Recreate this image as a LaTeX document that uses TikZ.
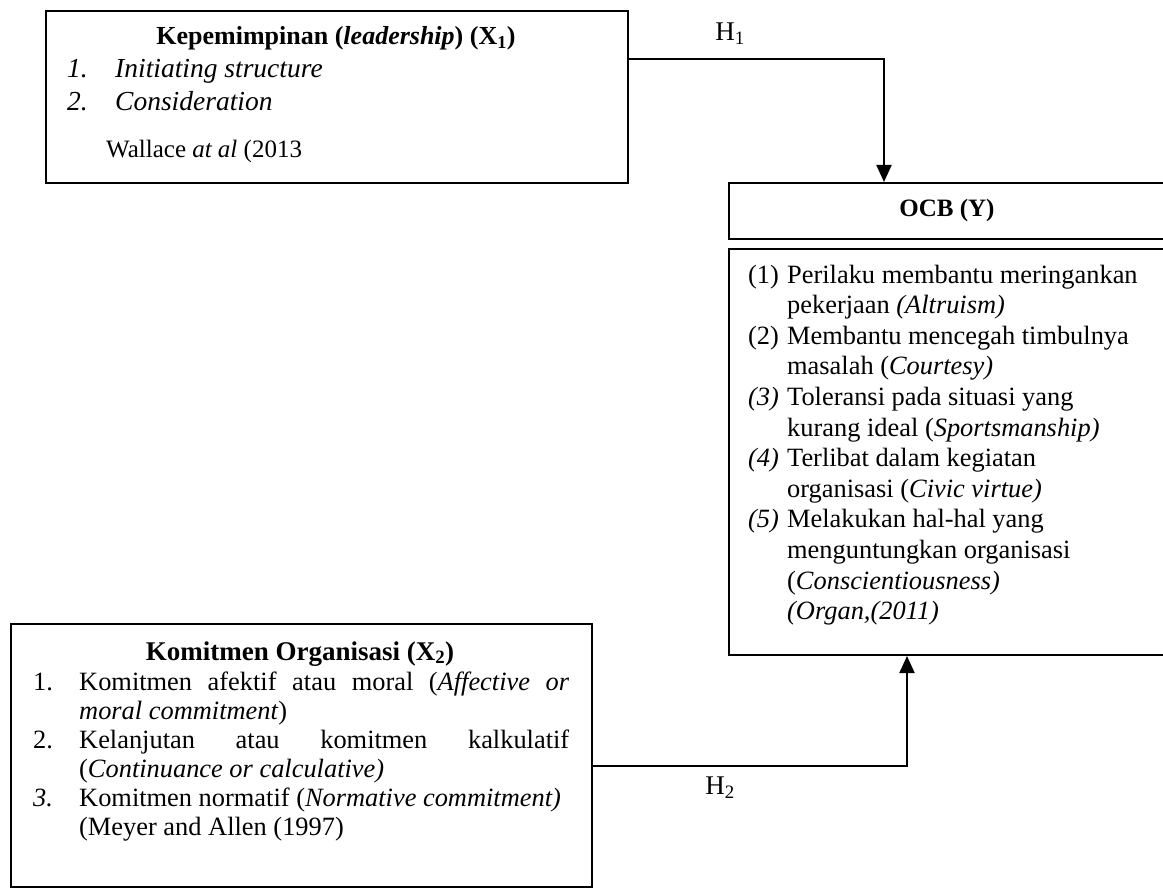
\documentclass[tikz,border=0pt]{standalone}
\usepackage{fontspec}
\setmainfont{Liberation Serif}
\usetikzlibrary{arrows.meta}
\newcommand\fsbody{\fontsize{26.4}{30}\selectfont}
\newcommand\fsitem{\fontsize{27.5}{32}\selectfont}
\newcommand\fstitle{\fontsize{26}{30}\selectfont}
\newcommand\fscite{\fontsize{25}{30}\selectfont}
\newcommand\fsocb{\fontsize{25}{30}\selectfont}
\newcommand\fskom{\fontsize{27}{30}\selectfont}
\newcommand\fsh{\fontsize{27}{30}\selectfont}
\begin{document}
\begin{tikzpicture}[x=1pt,y=-1pt,
  box/.style={draw, line width=2pt, inner sep=0pt, anchor=north west},
  txt/.style={anchor=base west, inner sep=0pt},
  ctxt/.style={anchor=base, inner sep=0pt},
  conn/.style={line width=2pt},
  arr/.style={conn, -{Triangle[width=15pt,length=17pt]}}]
\useasboundingbox (0,0) rectangle (1163,888);
\clip (0,0) rectangle (1163,888);
\fill[white] (0,0) rectangle (1163,888);

% boxes
\node[box, minimum width=582pt, minimum height=172pt] (kep) at (45,10) {};
\node[box, minimum width=470pt, minimum height=56pt] (ocbh) at (728,182) {};
\node[box, minimum width=470pt, minimum height=406pt] (ocbb) at (728,248) {};
\node[box, minimum width=581pt, minimum height=263pt] (kom) at (10,623) {};

% box 1 text
\node[ctxt] (kt) at (336,45) {\fstitle\bfseries Kepemimpinan (\textit{leadership}) (X\textsubscript{1})};
\node[txt] (kn1) at (67,78) {\fsitem\textit{1.}};
\node[txt] (ki1) at (115,78) {\fsitem\textit{Initiating structure}};
\node[txt] (kn2) at (67,111) {\fsitem\textit{2.}};
\node[txt] (ki2) at (115,111) {\fsitem\textit{Consideration}};
\node[txt] (kc) at (106,158) {\fscite Wallace \textit{at al} (2013};

% OCB header
\node[anchor=center, inner sep=0pt] (ocbt) at (947,210) {\fsocb\bfseries OCB (Y)};

% OCB body
\node[txt] (n1) at (748,283) {\fsbody (1)};
\node[txt] (b1) at (787,283) {\fsbody Perilaku membantu meringankan};
\node[txt] (b2) at (787,313.6) {\fsbody pekerjaan \textit{(Altruism)}};
\node[txt] (n3) at (748,344.2) {\fsbody (2)};
\node[txt] (b3) at (787,344.2) {\fsbody Membantu mencegah timbulnya};
\node[txt] (b4) at (787,374.8) {\fsbody masalah (\textit{Courtesy)}};
\node[txt] (n5) at (748,405.4) {\fsbody\textit{(3)}};
\node[txt] (b5) at (787,405.4) {\fsbody Toleransi pada situasi yang};
\node[txt] (b6) at (787,436) {\fsbody kurang ideal (\textit{Sportsmanship)}};
\node[txt] (n7) at (748,466.6) {\fsbody\textit{(4)}};
\node[txt] (b7) at (787,466.6) {\fsbody Terlibat dalam kegiatan};
\node[txt] (b8) at (787,497.2) {\fsbody organisasi (\textit{Civic virtue)}};
\node[txt] (n9) at (748,527.8) {\fsbody\textit{(5)}};
\node[txt] (b9) at (787,527.8) {\fsbody Melakukan hal-hal yang};
\node[txt] (b10) at (787,558.4) {\fsbody menguntungkan organisasi};
\node[txt] (b11) at (787,589) {\fsbody (\textit{Conscientiousness)}};
\node[txt] (b12) at (787,619.6) {\fsbody\textit{(Organ,(2011)}};

% box 2 text
\node[ctxt] (mt) at (300,660) {\fskom\bfseries Komitmen Organisasi (X\textsubscript{2})};
\node[txt] (m1n) at (33,690) {\fsbody 1.};
\node[txt] (m1) at (79,690) {\fsbody\makebox[490pt][s]{Komitmen afektif atau moral (\textit{Affective or}}};
\node[txt] (m2) at (79,719) {\fsbody\textit{moral commitment})};
\node[txt] (m3n) at (33,748) {\fsbody 2.};
\node[txt] (m3) at (79,748) {\fsbody\makebox[490pt][s]{Kelanjutan atau komitmen kalkulatif}};
\node[txt] (m4) at (79,777) {\fsbody(\textit{Continuance or calculative)}};
\node[txt] (m5n) at (33,806) {\fsbody\textit{3.}};
\node[txt] (m5) at (79,806) {\fsbody Komitmen normatif (\textit{Normative commitment)}};
\node[txt] (m6) at (79,835) {\fsbody(Meyer and Allen (1997)};

% connectors
\coordinate (h1y) at (0,59);
\coordinate (h1x) at (884,0);
\coordinate (h2y) at (0,766);
\coordinate (h2x) at (907,0);
\draw[arr] (kep.east |- h1y) -| (h1x |- ocbh.north);
\draw[arr] (kom.east |- h2y) -| (h2x |- ocbb.south);
\node[inner sep=0pt] (h1) at (730,34) {\fsh H\textsubscript{1}};
\node[inner sep=0pt] (h2) at (720,788) {\fsh H\textsubscript{2}};
\end{tikzpicture}
\end{document}
